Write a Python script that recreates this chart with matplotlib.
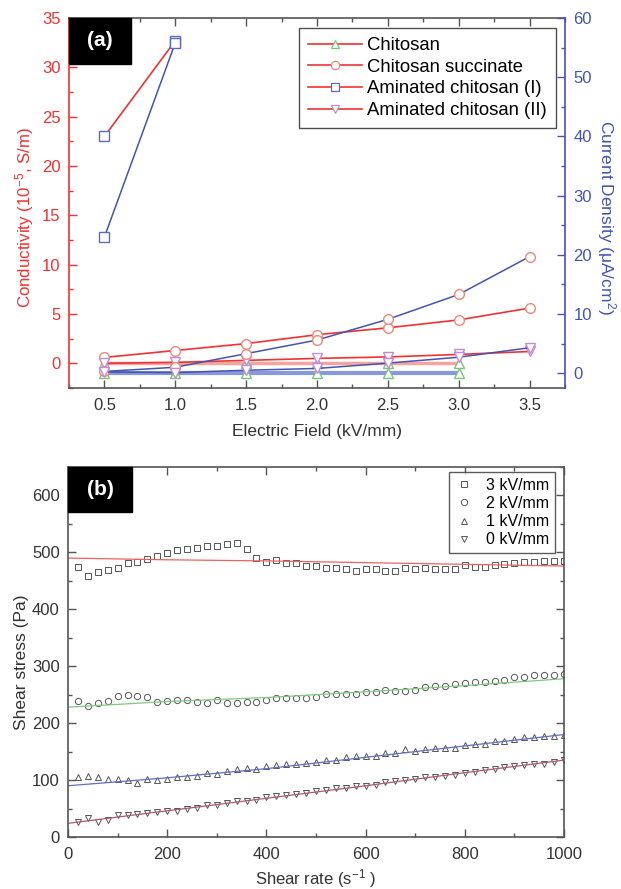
import matplotlib
matplotlib.use('Agg')
import matplotlib.pyplot as plt
from matplotlib.ticker import MultipleLocator
from matplotlib.lines import Line2D
from matplotlib.patches import Rectangle

plt.rcParams['font.family'] = ['Liberation Sans', 'DejaVu Sans']
plt.rcParams['mathtext.default'] = 'regular'

# ---------------- Panel (a) data ----------------
field_all = [0.5, 1.0, 1.5, 2.0, 2.5, 3.0, 3.5]
field_chitosan = [0.5, 1.0, 1.5, 2.0, 2.5, 3.0]
field_amin1 = [0.5, 1.0]

materials = ["Chitosan", "Chitosan succinate", "Aminated chitosan (I)", "Aminated chitosan (II)"]

cond_chitosan = [0.0, 0.0, 0.0, 0.0, 0.0, 0.0]
cur_chitosan = [0.0, 0.0, 0.0, 0.0, 0.0, 0.0]
cond_succinate = [0.6, 1.3, 2.0, 2.9, 3.6, 4.4, 5.6]
cur_succinate = [0.3, 1.0, 3.3, 5.6, 9.1, 13.3, 19.7]
cond_amin1 = [23.0, 32.7]
cur_amin1 = [23.0, 55.8]
cond_amin2 = [0.0, 0.1, 0.3, 0.5, 0.65, 0.9, 1.2]
cur_amin2 = [0.2, 0.1, 0.5, 0.8, 1.7, 2.7, 4.3]

# ---------------- Panel (b) data ----------------
shear_rate = [20, 40, 60, 80, 100, 120, 140, 160, 180, 200,
              220, 240, 260, 280, 300, 320, 340, 360, 380, 400,
              420, 440, 460, 480, 500, 520, 540, 560, 580, 600,
              620, 640, 660, 680, 700, 720, 740, 760, 780, 800,
              820, 840, 860, 880, 900, 920, 940, 960, 980, 1000]
stress_3kv = [474, 458, 466, 469, 473, 481, 483, 489, 493, 499,
              504, 506, 507, 512, 512, 515, 517, 506, 491, 483,
              487, 482, 482, 476, 476, 472, 472, 471, 468, 470,
              470, 468, 467, 473, 470, 473, 470, 470, 471, 477,
              475, 475, 477, 480, 481, 483, 483, 485, 485, 485]
stress_2kv = [239, 231, 236, 239, 247, 249, 247, 246, 237, 239,
              240, 240, 237, 235, 240, 235, 236, 237, 238, 240,
              244, 244, 244, 245, 246, 251, 252, 252, 252, 254,
              254, 259, 257, 257, 259, 263, 266, 266, 268, 270,
              273, 272, 274, 275, 281, 281, 284, 284, 284, 286]
stress_1kv = [105, 107, 105, 102, 102, 100, 95, 102, 100, 102,
              106, 106, 107, 112, 111, 116, 119, 121, 120, 125,
              127, 128, 129, 130, 132, 135, 136, 140, 142, 143,
              143, 148, 148, 154, 151, 154, 157, 156, 157, 161,
              163, 164, 168, 168, 172, 175, 176, 177, 177, 179]
stress_0kv = [27, 33, 26, 30, 38, 38, 40, 43, 44, 46,
              46, 50, 51, 56, 57, 59, 63, 63, 65, 70,
              72, 74, 75, 78, 81, 82, 86, 86, 89, 90,
              92, 96, 99, 100, 102, 105, 106, 108, 109, 113,
              114, 117, 120, 123, 125, 126, 128, 129, 132, 135]
field_labels = ["3 kV/mm", "2 kV/mm", "1 kV/mm", "0 kV/mm"]

fit_x = [0, 200, 400, 600, 800, 1000]
fit_3kv = [490, 487, 485, 482, 479, 476]
fit_2kv = [228, 238, 245, 255, 266, 278]
fit_1kv = [90, 104, 120, 140, 160, 180]
fit_0kv = [24, 46, 68, 90, 113, 135]

# ---------------- styles ----------------
RED = '#f03232'
BLUE = '#4454b0'
RED_L = '#f5a5a0'
BLUE_L = '#8898d8'
GREEN_M = '#7cc47c'
SALMON_M = '#f08878'
BLUE_M = '#5a6cc0'
PURPLE_M = '#c58ad8'
DARK = '#333333'
SPINE = '#555555'

fig = plt.figure(figsize=(6.21, 8.89), dpi=100)

# ================= Panel (a) =================
ax = fig.add_axes([69/621, 1-388/889, 496/621, 370/889])
ax2 = ax.twinx()

mk = dict(mfc='white', ms=7, mew=1.0)
# blue (current density) lines on right axis
ax2.plot(field_chitosan, cur_chitosan, color=BLUE_L, lw=3.0, marker='^', mec=GREEN_M, **mk)
ax2.plot(field_all, cur_succinate, color=BLUE, lw=1.1, marker='o', mec=SALMON_M, **mk)
ax2.plot(field_amin1, cur_amin1, color=BLUE, lw=1.1, marker='s', mec=BLUE_M, **mk)
ax2.plot(field_all, cur_amin2, color=BLUE, lw=1.1, marker='v', mec=PURPLE_M, **mk)
# red (conductivity) lines on left axis
ax.plot(field_chitosan, cond_chitosan, color=RED_L, lw=2.5, marker='^', mec=GREEN_M, **mk)
ax.plot(field_all, cond_succinate, color=RED, lw=1.2, marker='o', mec=SALMON_M, **mk)
ax.plot(field_amin1, cond_amin1, color=RED, lw=1.2, marker='s', mec=BLUE_M, **mk)
ax.plot(field_all, cond_amin2, color=RED, lw=1.2, marker='v', mec=PURPLE_M, **mk)

ax.set_xlim(0.25, 3.75)
ax.set_ylim(-2.5, 35)
ax2.set_ylim(-2.5, 60)
ax.xaxis.set_major_locator(MultipleLocator(0.5))
ax.xaxis.set_minor_locator(MultipleLocator(0.25))
ax.yaxis.set_major_locator(MultipleLocator(5))
ax.yaxis.set_minor_locator(MultipleLocator(2.5))
ax2.yaxis.set_major_locator(MultipleLocator(10))
ax2.yaxis.set_minor_locator(MultipleLocator(5))
ax.set_xticks([0.5, 1.0, 1.5, 2.0, 2.5, 3.0, 3.5])
ax.set_xticklabels(['0.5', '1.0', '1.5', '2.0', '2.5', '3.0', '3.5'])

for a in (ax, ax2):
    a.tick_params(which='both', direction='in')
    a.tick_params(which='major', length=6, width=1)
    a.tick_params(which='minor', length=3, width=1)
ax.tick_params(axis='x', which='both', top=True, bottom=True, colors=SPINE, labelcolor=DARK, labelsize=12, pad=7)
ax.tick_params(axis='y', which='both', left=True, right=False, colors=RED, labelcolor=RED, labelsize=12, pad=6)
ax2.tick_params(axis='y', which='both', right=True, colors=BLUE, labelcolor=BLUE, labelsize=12, pad=6)

ax.spines['left'].set_color(RED)
ax.spines['right'].set_visible(False)
ax.spines['top'].set_color(SPINE)
ax.spines['bottom'].set_color(SPINE)
ax2.spines['left'].set_visible(False)
ax2.spines['right'].set_color(BLUE)
ax2.spines['top'].set_visible(False)
ax2.spines['bottom'].set_visible(False)
for s in ax.spines.values():
    s.set_linewidth(1.2)
ax2.spines['right'].set_linewidth(1.2)

ax.set_xlabel('Electric Field (kV/mm)', fontsize=12.5, color=DARK, labelpad=8)
ax.set_ylabel('Conductivity (10$^{-5}$, S/m)', fontsize=12.2, color=RED, labelpad=4)
ax2.set_ylabel('Current Density (\u03bcA/cm$^{2}$)', fontsize=12.5, color=BLUE, rotation=270, labelpad=19)
ax.yaxis.label.set_y(0.462)
ax2.yaxis.label.set_y(0.462)

markers_a = ['^', 'o', 's', 'v']
mcols_a = [GREEN_M, SALMON_M, BLUE_M, PURPLE_M]
handles_a = [Line2D([0], [0], color=RED, lw=1.2, marker=m, mfc='white', mec=c, ms=6, mew=0.9)
             for m, c in zip(markers_a, mcols_a)]
leg = ax2.legend(handles_a, materials, loc='upper right', bbox_to_anchor=(0.982, 0.973),
                 borderaxespad=0, fontsize=13.3, frameon=True, fancybox=False,
                 edgecolor='#222222', handlelength=2.9, handletextpad=0.3,
                 labelspacing=0.25, borderpad=0.5)
leg.get_frame().set_linewidth(1.0)

ax2.add_patch(Rectangle((0, 1), 0.125, -0.124, transform=ax.transAxes, color='black',
                        clip_on=False, zorder=5))
ax2.text(0.0625, 1 - 0.062, '(a)', transform=ax.transAxes, color='white', fontsize=15,
         fontweight='bold', ha='center', va='center', zorder=6)

# ================= Panel (b) =================
bx = fig.add_axes([68/621, 1-837/889, 496/621, 370/889])
mkb = dict(ls='none', mfc='none', mec='#555555', ms=4.5, mew=0.7)
bx.plot(shear_rate, stress_3kv, marker='s', **mkb)
bx.plot(shear_rate, stress_2kv, marker='o', **mkb)
bx.plot(shear_rate, stress_1kv, marker='^', **mkb)
bx.plot(shear_rate, stress_0kv, marker='v', **mkb)
bx.plot(fit_x, fit_3kv, color='#f06060', lw=0.9)
bx.plot(fit_x, fit_2kv, color='#80c880', lw=0.9)
bx.plot(fit_x, fit_1kv, color='#6070c0', lw=0.9)
bx.plot(fit_x, fit_0kv, color='#b05878', lw=0.9)

bx.set_xlim(0, 1000)
bx.set_ylim(0, 650)
bx.xaxis.set_major_locator(MultipleLocator(200))
bx.xaxis.set_minor_locator(MultipleLocator(100))
bx.yaxis.set_major_locator(MultipleLocator(100))
bx.yaxis.set_minor_locator(MultipleLocator(50))
bx.tick_params(which='both', direction='in', top=True, right=True, colors=SPINE,
               labelcolor=DARK, labelsize=12)
bx.tick_params(which='major', length=6, width=1)
bx.tick_params(which='minor', length=3, width=1)
bx.tick_params(axis='x', pad=7)
bx.tick_params(axis='y', pad=6)
for s in bx.spines.values():
    s.set_color(SPINE)
    s.set_linewidth(1.2)

bx.set_xlabel('Shear rate (s$^{-1}$ )', fontsize=12, color=DARK, labelpad=4)
bx.set_ylabel('Shear stress (Pa)', fontsize=12.5, color=DARK, labelpad=2)
bx.yaxis.label.set_y(0.473)

markers_b = ['s', 'o', '^', 'v']
handles_b = [Line2D([0], [0], ls='none', marker=m, mfc='none', mec='#555555', ms=4.5, mew=0.7)
             for m in markers_b]
legb = bx.legend(handles_b, field_labels, loc='upper right', bbox_to_anchor=(0.982, 0.986),
                 borderaxespad=0, fontsize=11.5, frameon=True, fancybox=False,
                 edgecolor='#333333', handlelength=1.2, handletextpad=0.8,
                 labelspacing=0.2, borderpad=0.35)
legb.get_frame().set_linewidth(1.0)

bx.add_patch(Rectangle((0, 1), 0.129, -0.122, transform=bx.transAxes, color='black',
                       clip_on=False, zorder=5))
bx.text(0.0645, 1 - 0.061, '(b)', transform=bx.transAxes, color='white', fontsize=15,
        fontweight='bold', ha='center', va='center', zorder=6)

fig.savefig('out.png', dpi=100)
